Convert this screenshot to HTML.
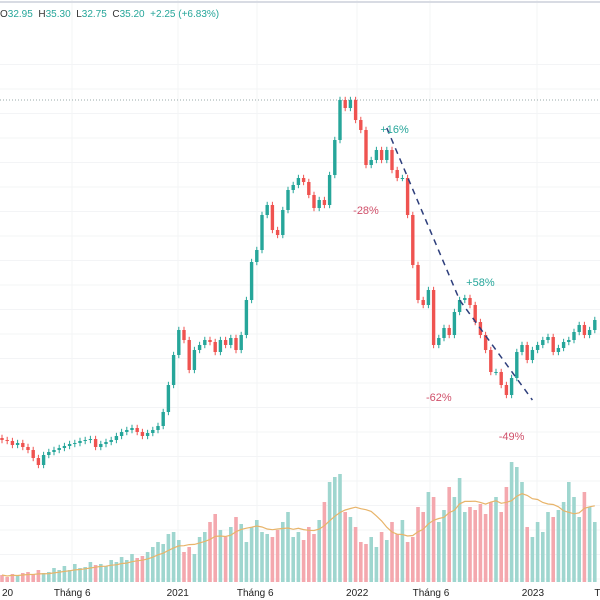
<!DOCTYPE html>
<html><head><meta charset="utf-8">
<style>
html,body{margin:0;padding:0;background:#fff;}
#wrap{position:relative;width:600px;height:600px;overflow:hidden;font-family:"Liberation Sans",sans-serif;}
#hdr{position:absolute;left:0;top:9px;font-size:10px;color:#26a69a;white-space:nowrap;}
#hdr b{color:#333;font-weight:normal;}
</style></head>
<body>
<div id="wrap">
<svg id="chart" width="600" height="600"></svg>
<div id="hdr"><b>O</b>32.95 &nbsp;<b>H</b>35.30 &nbsp;<b>L</b>32.75 &nbsp;<b>C</b>35.20 &nbsp;+2.25 (+6.83%)</div>
</div>
<script>
const closes=[10,9.75,8.75,9.25,8.25,7.5,5.5,3.75,6.25,7,7.5,8,8.5,9,9.25,9.75,10,10.25,8.25,9,9.5,10,11,12,12.5,13,12,11,11.75,12.5,13.5,17,23.75,31.25,37.5,35,27.5,32.5,33.75,35,34.5,32,35,33.75,35.5,32.5,36.25,45,54.5,57.5,66.25,68.75,62.5,61.25,67.5,72.5,73.75,75.5,74.5,71.25,68,70,68.75,76.25,85,95,93,95,90,87.5,78.75,80,82.5,80,82.5,77.5,75.5,75.5,66.25,53.75,45,43.75,47.5,33.75,35.5,38,36.25,42,45,45.5,43.75,39.5,36.25,32.5,27,27,23.75,21.25,25.5,32,33.75,30,32.5,33.75,35,35.75,32,33,34.5,35,37,38.75,36.25,37.5,40];
const volumes=[7,5,8,6,9,10,8,12,9,10,14,12,16,12,18,14,15,20,17,18,16,22,20,25,22,28,24,26,30,35,40,38,48,50,42,30,35,28,45,50,60,68,52,45,55,65,58,40,55,62,50,48,45,52,60,70,45,50,42,55,48,62,80,100,105,108,70,65,55,40,38,45,35,50,42,60,48,62,40,45,75,70,90,85,60,72,95,85,104,70,75,72,78,68,80,85,70,95,120,115,100,55,45,60,50,70,65,72,80,100,85,65,90,75,60];
const xTickLabels=["20","Tháng 6","2021","Tháng 6","2022","Tháng 6","2023","T"];
const xTickIndex=[0,13.5,33.8,48.7,68.3,82.5,102.1,114.5];
const annotTexts=["+16%","-28%","+58%","-62%","-49%"];
const annotIndex=[75.5,70,92,84,98];
const annotPrice=[86.75,66.5,48.5,19.75,10];
const firstOpen=10.5;

const svg=document.getElementById('chart');
const NS='http://www.w3.org/2000/svg';
const step=5.2, x0=2;
const xS=i=>x0+i*step;
const yS=p=>480-4*p;
const vS=v=>582-v;
function mk(tag,attrs,parent){const e=document.createElementNS(NS,tag);for(const k in attrs)e.setAttribute(k,attrs[k]);(parent||svg).appendChild(e);return e;}

const grid=mk('g',{});


for(let y=64.5;y<582;y+=24.5){mk('line',{x1:0,x2:600,y1:y,y2:y,stroke:'#f3f4f6','stroke-width':1},grid);}
[72,178,257,357,430,537].forEach(x=>mk('line',{x1:x,x2:x,y1:0,y2:582,stroke:'#f3f4f6','stroke-width':1},grid));
const topBorder=mk('line',{x1:0,x2:600,y1:2,y2:2,stroke:'#d8dbe3','stroke-width':2});



const pl=mk('line',{x1:0,x2:600,y1:100,y2:100,stroke:'#9aa','stroke-width':1,'stroke-dasharray':'1,2'});



const vg=mk('g',{});


volumes.forEach((v,i)=>{
  const up=closes[i]>=(i?closes[i-1]:firstOpen);
  const r=mk('rect',{x:xS(i)-1.8,y:vS(v),width:3.6,height:582-vS(v),fill:up?'#9fd6cf':'#f4a8ae'},vg);
  
  
});
let pts=[];
volumes.forEach((v,i)=>{const s=volumes.slice(Math.max(0,i-9),i+1);const m=s.reduce((a,b)=>a+b,0)/s.length;pts.push(xS(i)+','+vS(m));});
const ma=mk('polyline',{points:pts.join(' '),fill:'none',stroke:'#e8b46a','stroke-width':1.2});



const cg=mk('g',{});


closes.forEach((c,i)=>{
  const o=i?closes[i-1]:firstOpen;
  const up=c>=o;const col=up?'#26a69a':'#ef5350';
  const hi=Math.max(o,c)+0.8, lo=Math.min(o,c)-0.8;
  const g=mk('g',{},cg);
  
  
  mk('line',{x1:xS(i),x2:xS(i),y1:yS(hi),y2:yS(lo),stroke:col,'stroke-width':1},g);
  const yt=yS(Math.max(o,c)), yb=yS(Math.min(o,c));
  mk('rect',{x:xS(i)-1.7,y:yt,width:3.4,height:Math.max(1,yb-yt),fill:col},g);
});

const tl=mk('polyline',{points:[[74,88],[88,45],[102,20]].map(a=>xS(a[0])+','+yS(a[1])).join(' '),fill:'none',stroke:'#2e3f7c','stroke-width':1.5,'stroke-dasharray':'6,5'});



annotTexts.forEach((t,k)=>{
  const e=mk('text',{x:xS(annotIndex[k]),y:yS(annotPrice[k]),fill:t[0]=='+'?'#26a69a':'#d0506a','font-size':11,'text-anchor':'middle','font-family':'Liberation Sans, sans-serif'});
  e.textContent=t;
  
  
});

xTickLabels.forEach((t,k)=>{
  const e=mk('text',{x:xS(xTickIndex[k]),y:596,fill:'#222','font-size':10,'text-anchor':k==0?'start':'middle','font-family':'Liberation Sans, sans-serif'});
  e.textContent=t;
  
  
});
</script>
</body></html>
